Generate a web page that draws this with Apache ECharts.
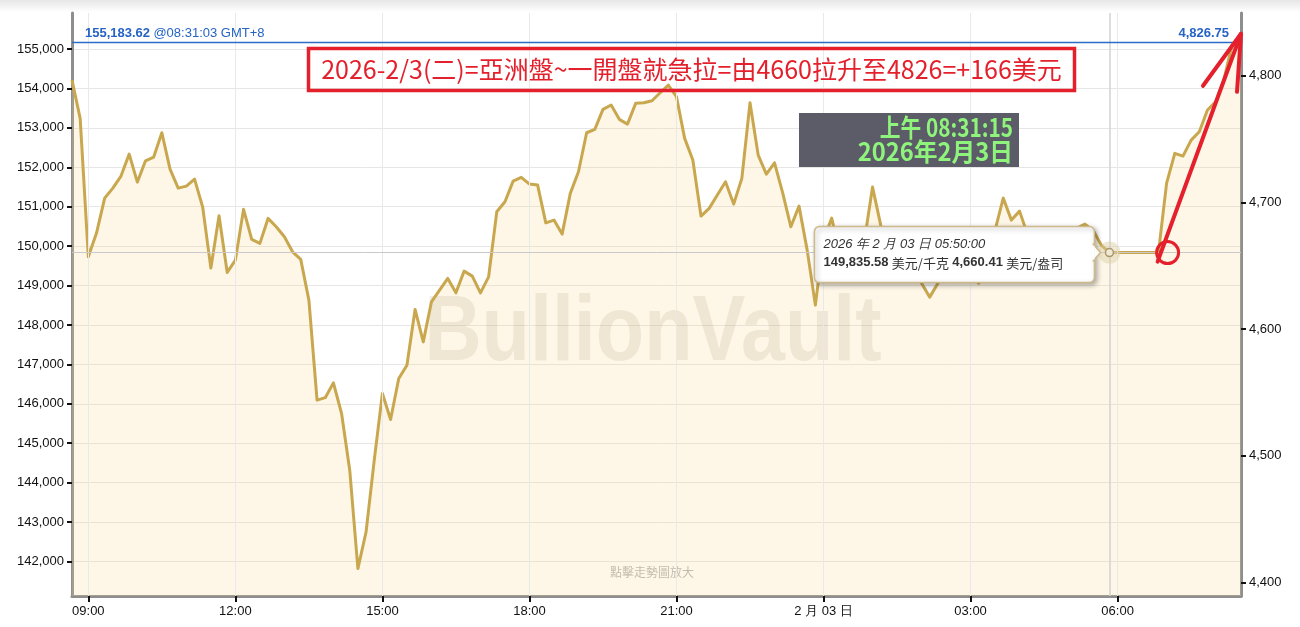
<!DOCTYPE html>
<html>
<head>
<meta charset="utf-8">
<title>Gold price 24h</title>
<script src="https://cdn.jsdelivr.net/npm/echarts@6/dist/echarts.min.js"></script>
<style>
html, body { margin: 0; padding: 0; background: #fff; }
#chart { width: 1300px; height: 627px; }
</style>
</head>
<body>
<div id="chart"></div>
<script>
// 10-minute samples, 2026-02-02 08:40 -> 2026-02-03 08:31:03 (GMT+8)
var times = [
  '08:40','08:50',
  '09:00','09:10','09:20','09:30','09:40','09:50',
  '10:00','10:10','10:20','10:30','10:40','10:50',
  '11:00','11:10','11:20','11:30','11:40','11:50',
  '12:00','12:10','12:20','12:30','12:40','12:50',
  '13:00','13:10','13:20','13:30','13:40','13:50',
  '14:00','14:10','14:20','14:30','14:40','14:50',
  '15:00','15:10','15:20','15:30','15:40','15:50',
  '16:00','16:10','16:20','16:30','16:40','16:50',
  '17:00','17:10','17:20','17:30','17:40','17:50',
  '18:00','18:10','18:20','18:30','18:40','18:50',
  '19:00','19:10','19:20','19:30','19:40','19:50',
  '20:00','20:10','20:20','20:30','20:40','20:50',
  '21:00','21:10','21:20','21:30','21:40','21:50',
  '22:00','22:10','22:20','22:30','22:40','22:50',
  '23:00','23:10','23:20','23:30','23:40','23:50',
  '00:00','00:10','00:20','00:30','00:40','00:50',
  '01:00','01:10','01:20','01:30','01:40','01:50',
  '02:00','02:10','02:20','02:30','02:40','02:50',
  '03:00','03:10','03:20','03:30','03:40','03:50',
  '04:00','04:10','04:20','04:30','04:40','04:50',
  '05:00','05:10','05:20','05:30','05:40','05:50',
  '06:00','06:10','06:20','06:30','06:40','06:50',
  '07:00','07:10','07:20','07:30','07:40','07:50',
  '08:00','08:10','08:20','08:31:03'
];
// USD per kg
var prices = [
  154213, 153241,
  149729, 150330, 151218, 151472, 151777, 152335,
  151624, 152165, 152259, 152876, 151954, 151472,
  151523, 151701, 150990, 149442, 150769, 149333,
  149645, 150932, 150170, 150069, 150703, 150490,
  150236, 149855, 149663, 148630, 146092, 146155,
  146531, 145754, 144315, 141820, 142749, 144569,
  146262, 145602, 146642, 146980, 148394, 147571,
  148586, 148883, 149180, 148815, 149366, 149239,
  148815, 149221, 150871, 151124, 151650, 151744,
  151574, 151548, 150591, 150660, 150305, 151338,
  151886, 152876, 152962, 153470, 153579, 153216,
  153096, 153622, 153637, 153688, 153891, 154086,
  153789, 152734, 152183, 150762, 150957, 151295,
  151632, 151066, 151718, 153637, 152310, 151827,
  152114, 151353, 150490, 151015, 149899, 148503,
  150152, 150711, 149800, 149500, 149650, 150130,
  151498, 150533, 149899, 149770, 149594, 149517,
  149061, 148706, 149061, 149594, 149770, 149517,
  149264, 149061, 149594, 150406, 151218, 150660,
  150888, 150279, 149899, 149696, 149594, 149696,
  150025, 150457, 150558, 150406, 150025, 149835.58,
  149835.58, 149835.58, 149835.58, 149835.58, 149835.58, 149835.58,
  151599, 152353, 152284, 152690, 152901, 153452,
  153662, 154213, 155100, 155183.62
];
var kgTicks = [142000, 143000, 144000, 145000, 146000, 147000, 148000,
  149000, 150000, 151000, 152000, 153000, 154000, 155000];
var ozTicks = [4400, 4500, 4600, 4700, 4800];
var hourTicks = [9, 12, 15, 18, 21, 24, 27, 30];
var OZ_PER_KG = 32.1507466;
var kgMin = 141124, kgMax = 155914;
var hoverIndex = 127;   // 05:50 tooltip point
var reopenIndex = 134;  // 07:00 first tick after the pause

var FONT = 'Liberation Sans, Arial, sans-serif';
var CJK = 'Noto Sans CJK TC, sans-serif';

function fmt(v) { return String(v).replace(/\B(?=(\d{3})+(?!\d))/g, ','); }
function fmt2(v) { var p = v.toFixed(2).split('.'); return fmt(p[0]) + '.' + p[1]; }

// hours since 2026-02-02 00:00
var xs = [];
var dayOff = 0, prevH = -1;
times.forEach(function (t) {
  var p = t.split(':');
  var h = +p[0] + p[1] / 60 + (p[2] ? p[2] / 3600 : 0);
  if (h < prevH) dayOff = 24;
  prevH = h;
  xs.push(h + dayOff);
});
var last = prices.length - 1;

var chart = echarts.init(document.getElementById('chart'));

var gridLines = hourTicks.map(function (h) {
  return { xAxis: h, lineStyle: { color: '#e9e9e9', width: 1, type: 'solid' } };
});

var option = {
  animation: false,
  backgroundColor: '#fff',
  grid: { left: 72, right: 59, top: 13, bottom: 31 },
  xAxis: {
    type: 'value',
    min: xs[0],
    max: xs[last],
    axisLine: { onZero: false, lineStyle: { color: '#8e8e8e', width: 3 } },
    axisTick: { customValues: hourTicks, length: 6, lineStyle: { color: '#111', width: 2 } },
    axisLabel: {
      customValues: hourTicks,
      margin: 9,
      color: '#111',
      fontSize: 13,
      fontFamily: FONT,
      formatter: function (v) {
        if (v === 24) return '2 月 03 日';
        var h = v % 24;
        return (h < 10 ? '0' : '') + h + ':00';
      }
    },
    splitLine: { show: false }
  },
  yAxis: [
    {
      type: 'value',
      position: 'left',
      min: kgMin,
      max: kgMax,
      splitNumber: 15,
      axisLine: { show: true, onZero: false, lineStyle: { color: '#8e8e8e', width: 3 } },
      axisTick: { show: true, customValues: kgTicks, length: 5, lineStyle: { color: '#111', width: 2 } },
      axisLabel: { customValues: kgTicks, margin: 8, color: '#111', fontSize: 13, fontFamily: FONT, formatter: fmt },
      splitLine: { show: true, lineStyle: { color: '#e6e6e6' } }
    },
    {
      type: 'value',
      position: 'right',
      min: kgMin / OZ_PER_KG,
      max: kgMax / OZ_PER_KG,
      axisLine: { show: true, onZero: false, lineStyle: { color: '#8e8e8e', width: 3 } },
      axisTick: { show: true, customValues: ozTicks, length: 5, lineStyle: { color: '#111', width: 2 } },
      axisLabel: { customValues: ozTicks, margin: 8, color: '#111', fontSize: 13, fontFamily: FONT, formatter: fmt },
      splitLine: { show: false }
    }
  ],
  series: [
    {
      type: 'line',
      yAxisIndex: 0,
      data: xs.map(function (x, i) { return [x, prices[i]]; }),
      symbol: 'none',
      lineStyle: { color: '#c8a74e', width: 3, join: 'round' },
      areaStyle: { color: 'rgba(248,218,142,0.3)', origin: 'start' },
      markLine: {
        silent: true,
        symbol: 'none',
        label: { show: false },
        data: gridLines.concat([
          { yAxis: prices[hoverIndex], lineStyle: { color: '#c9c9c9', width: 1, type: 'solid' } },
          { xAxis: xs[hoverIndex], lineStyle: { color: '#d2d2d2', width: 1.5, type: 'solid' } },
          { yAxis: prices[last], lineStyle: { color: '#2a6cc6', width: 1.3, type: 'solid' } }
        ])
      },
      markPoint: {
        silent: true,
        label: { show: false },
        data: [
          { coord: [xs[hoverIndex], prices[hoverIndex]], symbol: 'circle', symbolSize: 22,
            itemStyle: { color: 'rgba(220,205,160,0.45)' } },
          { coord: [xs[hoverIndex], prices[hoverIndex]], symbol: 'circle', symbolSize: 8,
            itemStyle: { color: '#efe8d4', borderColor: '#a8986c', borderWidth: 1.5 } }
        ]
      }
    }
  ]
};
chart.setOption(option);

// overlays anchored to data points
var pH = chart.convertToPixel({ gridIndex: 0 }, [xs[hoverIndex], prices[hoverIndex]]);
var pL0 = chart.convertToPixel({ gridIndex: 0 }, [xs[0], prices[last]]);
var pL = chart.convertToPixel({ gridIndex: 0 }, [xs[last], prices[last]]);
var pR = chart.convertToPixel({ gridIndex: 0 }, [xs[reopenIndex], prices[reopenIndex - 1]]);
var tip = [pL[0], pL[1] - 8];
var red = '#e4202c';

chart.setOption({
  graphic: [
    { type: 'rect', silent: true, z: -10,
      shape: { x: 0, y: 0, width: 1300, height: 12 },
      style: { fill: { type: 'linear', x: 0, y: 0, x2: 0, y2: 1,
        colorStops: [{ offset: 0, color: '#e6e6e6' }, { offset: 1, color: '#ffffff' }] } } },
    // watermark
    { type: 'text', silent: true, z: 3, x: 653, y: 335, scaleX: 0.86,
      style: { text: 'BullionVault', font: 'bold 92px ' + FONT, fill: 'rgba(120,100,60,0.11)',
        align: 'center', verticalAlign: 'middle' } },
    { type: 'text', silent: true, z: 3, x: 652, y: 572,
      style: { text: '點擊走勢圖放大', font: '12px ' + CJK, fill: '#c3bcae',
        align: 'center', verticalAlign: 'middle' } },
    // last price labels
    { type: 'text', silent: true, z: 10, x: pL0[0] + 13, y: pL0[1] - 2,
      style: { text: '{b|' + fmt2(prices[last]) + '} {n|@08:31:03 GMT+8}', verticalAlign: 'bottom',
        rich: { b: { font: 'bold 13px ' + FONT, fill: '#2563c4' }, n: { font: '13px ' + FONT, fill: '#2563c4' } } } },
    { type: 'text', silent: true, z: 10, x: pL[0] - 12, y: pL[1] - 2,
      style: { text: fmt2(prices[last] / OZ_PER_KG), font: 'bold 13px ' + FONT, fill: '#2563c4',
        align: 'right', verticalAlign: 'bottom' } },
    // red headline
    { type: 'rect', silent: true, z: 20,
      shape: { x: 308.5, y: 48.5, width: 766, height: 42 },
      style: { fill: 'none', stroke: red, lineWidth: 3.5 } },
    { type: 'text', silent: true, z: 21, x: 691.5, y: 69.5,
      style: { text: '2026-2/3(二)=亞洲盤~一開盤就急拉=由4660拉升至4826=+166美元',
        font: '25px ' + CJK, fill: red, align: 'center', verticalAlign: 'middle' } },
    // clock box
    { type: 'rect', silent: true, z: 20,
      shape: { x: 799, y: 113, width: 220, height: 54 },
      style: { fill: '#5c5c68' } },
    { type: 'text', silent: true, z: 21, x: 1013, y: 127, scaleX: 0.83,
      style: { text: '上午 08:31:15', font: 'bold 25px ' + CJK, fill: '#8ef47c',
        align: 'right', verticalAlign: 'middle' } },
    { type: 'text', silent: true, z: 21, x: 1013, y: 151, scaleX: 0.95,
      style: { text: '2026年2月3日', font: 'bold 25px ' + CJK, fill: '#8ef47c',
        align: 'right', verticalAlign: 'middle' } },
    // tooltip
    { type: 'rect', silent: true, z: 30,
      shape: { x: pH[0] - 295, y: pH[1] - 26, width: 280, height: 56, r: 5 },
      style: { fill: '#fff', stroke: '#cdb98a', lineWidth: 1.5,
        shadowBlur: 5, shadowOffsetX: 2, shadowOffsetY: 2, shadowColor: 'rgba(0,0,0,0.3)' } },
    { type: 'polygon', silent: true, z: 31,
      shape: { points: [[pH[0] - 16, pH[1] - 8], [pH[0] - 9, pH[1]], [pH[0] - 16, pH[1] + 8]] },
      style: { fill: '#fff', stroke: '#cdb98a', lineWidth: 1.5 } },
    { type: 'rect', silent: true, z: 32,
      shape: { x: pH[0] - 17.5, y: pH[1] - 7, width: 2.5, height: 14 },
      style: { fill: '#fff' } },
    { type: 'text', silent: true, z: 33, x: pH[0] - 286, y: pH[1] - 8,
      style: { text: '2026 年 2 月 03 日 ' + times[hoverIndex] + ':00', font: 'italic 13px ' + FONT,
        fill: '#333', verticalAlign: 'middle' } },
    { type: 'text', silent: true, z: 33, x: pH[0] - 286, y: pH[1] + 10,
      style: { text: '{b|' + fmt2(prices[hoverIndex]) + '} {n|美元/千克} {b|' +
          fmt2(prices[hoverIndex] / OZ_PER_KG) + '} {n|美元/盎司}',
        verticalAlign: 'middle',
        rich: { b: { font: 'bold 13px ' + FONT, fill: '#333' }, n: { font: '13px ' + CJK, fill: '#333' } } } },
    // red circle and arrow
    { type: 'circle', silent: true, z: 40,
      shape: { cx: pR[0] + 1, cy: pH[1], r: 11 },
      style: { fill: 'none', stroke: red, lineWidth: 3 } },
    { type: 'polyline', silent: true, z: 40,
      shape: { points: [[pR[0] - 9, pH[1] + 9], tip] },
      style: { stroke: red, lineWidth: 4, lineCap: 'round' } },
    { type: 'polyline', silent: true, z: 40,
      shape: { points: [[tip[0] - 38, tip[1] + 52], tip, [tip[0] - 4, tip[1] + 58]] },
      style: { stroke: red, lineWidth: 4, lineCap: 'round', lineJoin: 'round' } }
  ]
});
</script>
</body>
</html>
